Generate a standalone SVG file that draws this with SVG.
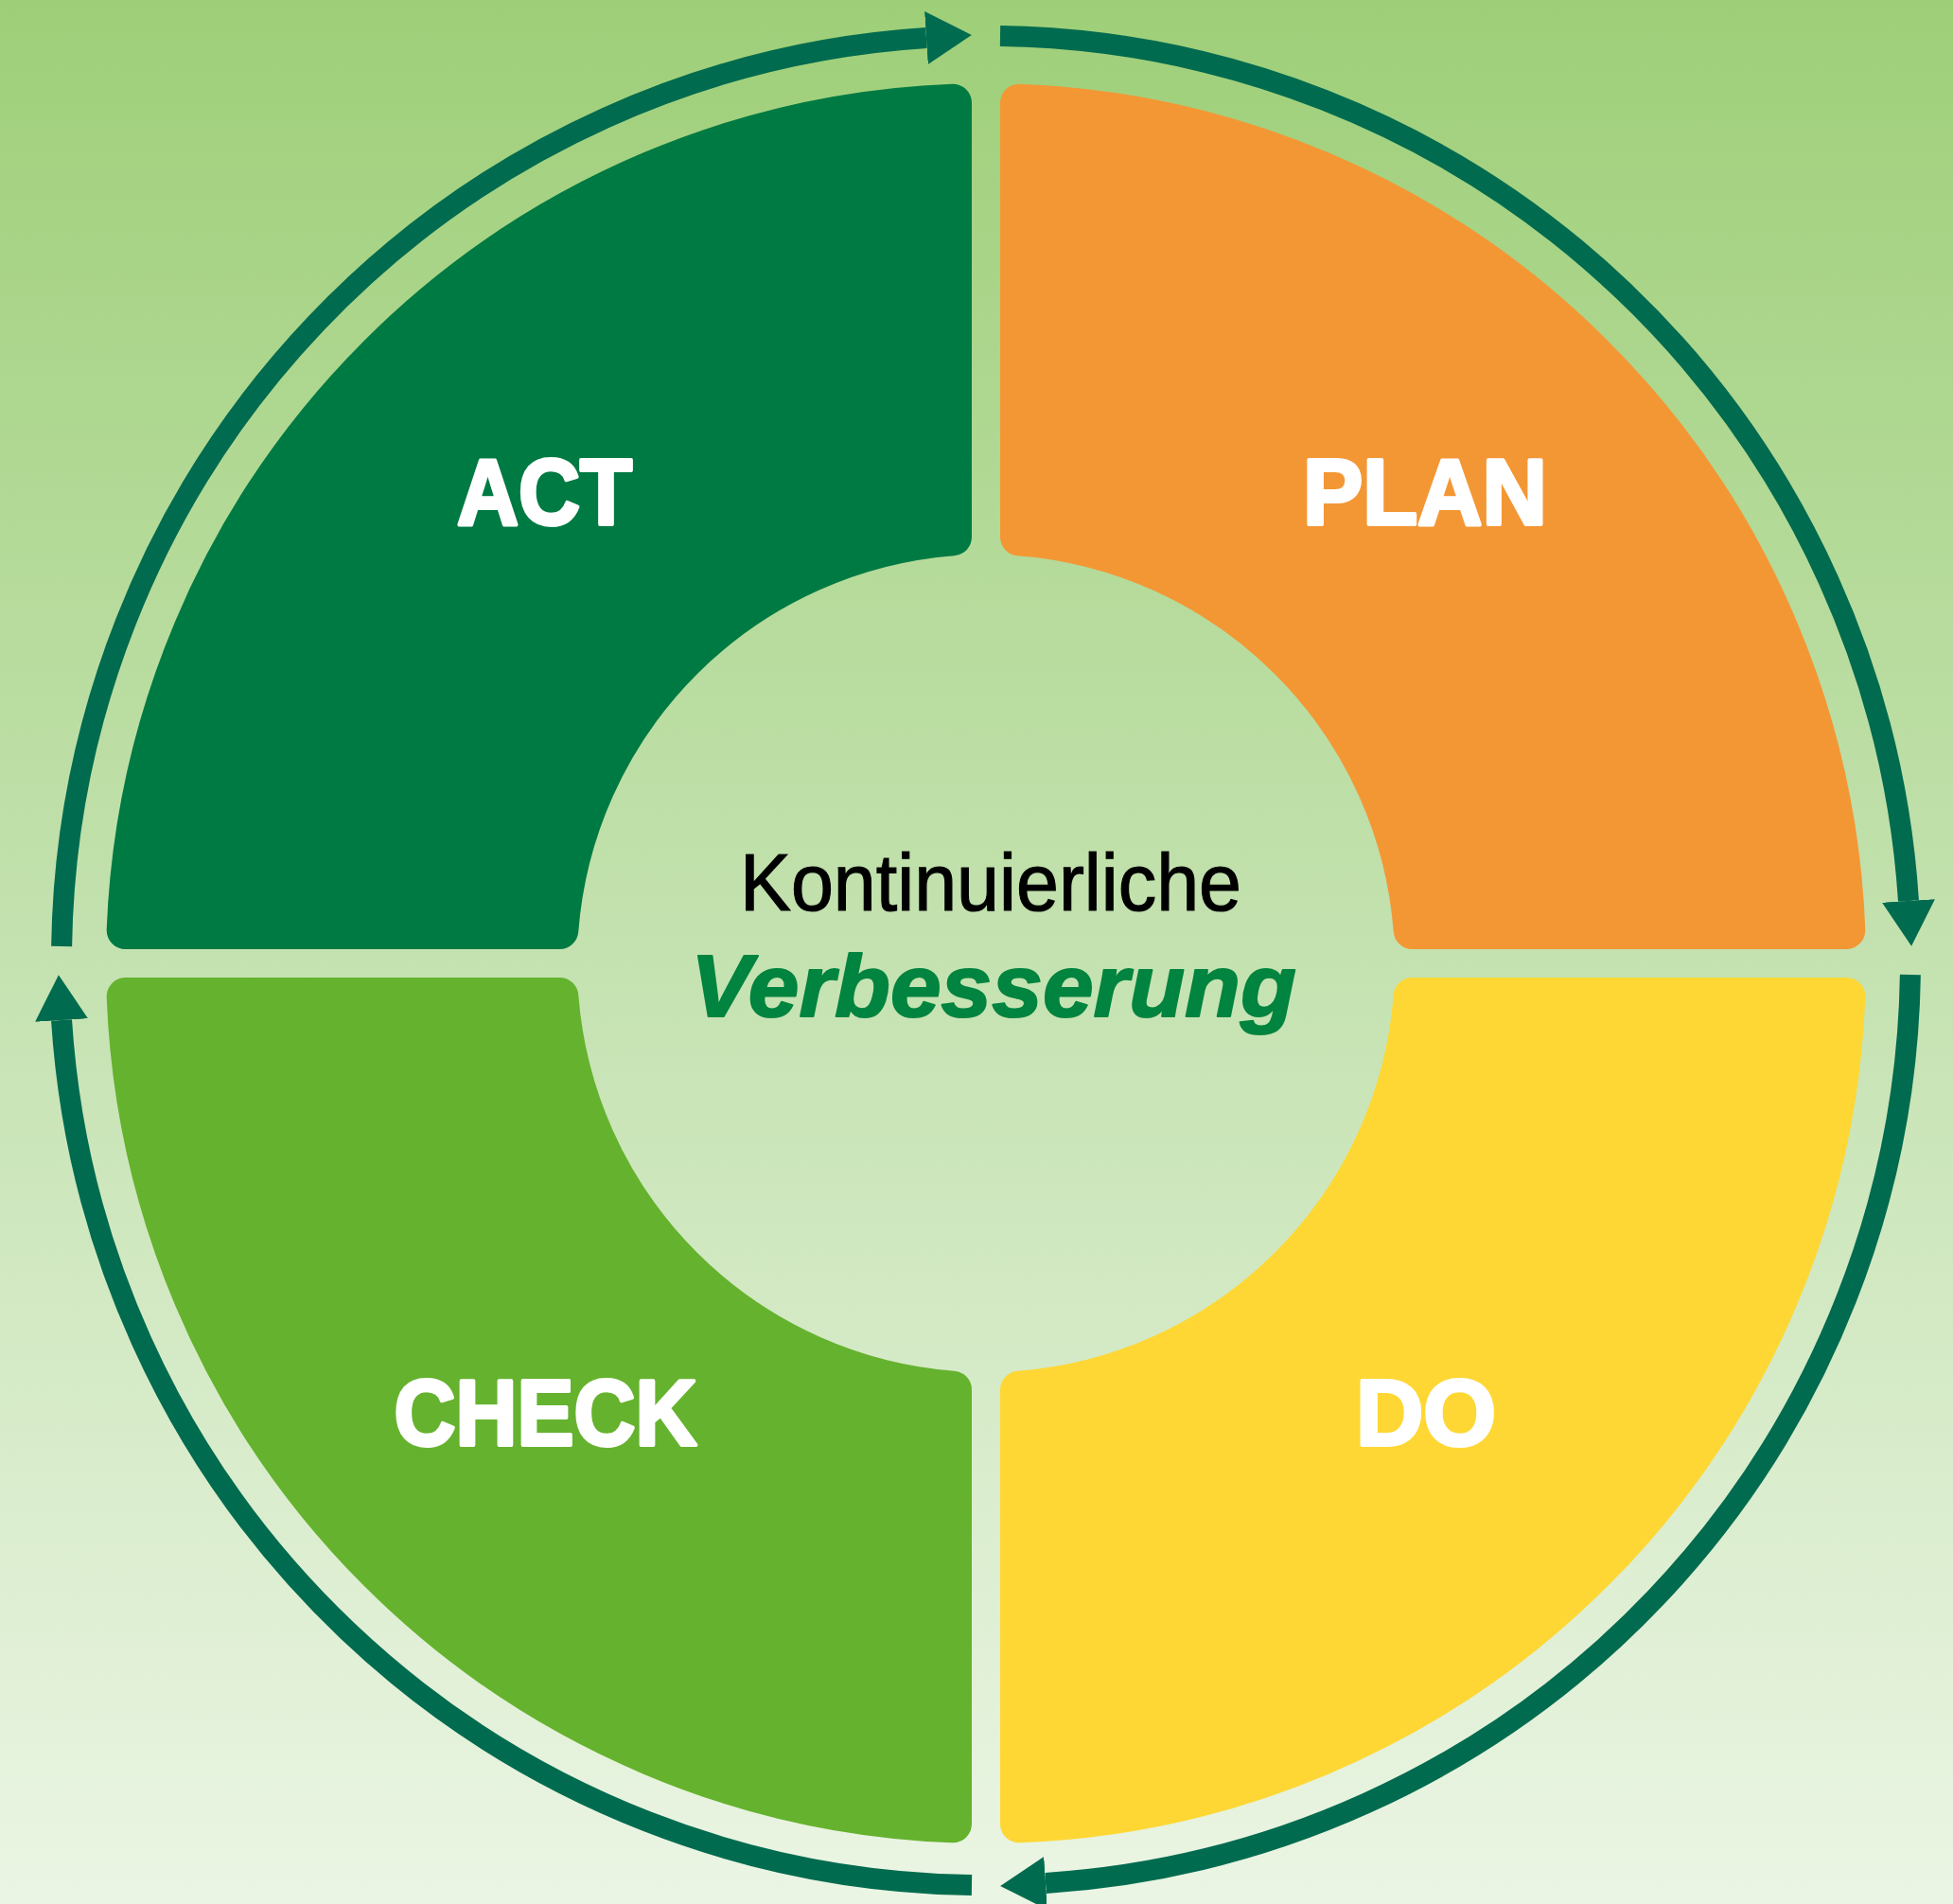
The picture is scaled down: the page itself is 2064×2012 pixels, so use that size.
<svg xmlns="http://www.w3.org/2000/svg" xmlns:xlink="http://www.w3.org/1999/xlink" width="2064" height="2012" viewBox="0 0 2064 2012">
  <defs>
    <linearGradient id="bg" x1="0" y1="0" x2="0" y2="1">
      <stop offset="0" stop-color="#9ECF78"/>
      <stop offset="0.5" stop-color="#C4E2B0"/>
      <stop offset="1" stop-color="#EBF5E4"/>
    </linearGradient>
    <path id="quad" d="M 1007 108.67 L 1007 567.36 A 452 452 0 0 0 591.36 983 L 132.67 983 A 910 910 0 0 1 1007 108.67 Z"/>
    <marker id="arrow" markerUnits="userSpaceOnUse" markerWidth="48" markerHeight="56" viewBox="0 0 48 56" refX="0" refY="28" orient="auto">
      <path d="M0 0 L48 28 L0 56 Z" fill="#006B4F"/>
    </marker>
    <style>
      .q { stroke-width: 40; stroke-linejoin: round; }
      .ring { fill: none; stroke: #006B4F; stroke-width: 22; stroke-linecap: butt; marker-end: url(#arrow); }
      .lbl { font-family: "Liberation Sans", Arial, sans-serif; font-weight: 700; font-size: 98px; fill: #FFFFFF; stroke: #FFFFFF; stroke-width: 4; stroke-linejoin: round; text-anchor: middle; }
      .t1 { font-family: "Liberation Sans", Arial, sans-serif; font-size: 86px; fill: #000000; stroke: #000000; stroke-width: 1.2; text-anchor: middle; }
      .t2 { font-family: "Liberation Sans", Arial, sans-serif; font-weight: 700; font-style: italic; font-size: 93px; fill: #00843F; stroke: #00843F; stroke-width: 2; stroke-linejoin: round; text-anchor: middle; }
    </style>
  </defs>
  <rect x="0" y="0" width="2064" height="2012" fill="url(#bg)"/>

  <g id="act">
    <use xlink:href="#quad" href="#quad" class="q" fill="#007A43" stroke="#007A43"/>
    <text class="lbl" x="575.5" y="554" textLength="185" lengthAdjust="spacingAndGlyphs">ACT</text>
  </g>
  <g id="plan">
    <use xlink:href="#quad" href="#quad" class="q" fill="#F39735" stroke="#F39735" transform="rotate(90 1042 1018)"/>
    <text class="lbl" x="1506" y="554" textLength="258" lengthAdjust="spacingAndGlyphs">PLAN</text>
  </g>
  <g id="do">
    <use xlink:href="#quad" href="#quad" class="q" fill="#FED734" stroke="#FED734" transform="rotate(180 1042 1018)"/>
    <text class="lbl" x="1507" y="1527" textLength="148" lengthAdjust="spacingAndGlyphs">DO</text>
  </g>
  <g id="check">
    <use xlink:href="#quad" href="#quad" class="q" fill="#65B22E" stroke="#65B22E" transform="rotate(270 1042 1018)"/>
    <text class="lbl" x="576.5" y="1527" textLength="320" lengthAdjust="spacingAndGlyphs">CHECK</text>
  </g>

  <g id="center">
    <text class="t1" x="1047" y="962" textLength="530" lengthAdjust="spacingAndGlyphs">Kontinuierliche</text>
    <text class="t2" x="1050" y="1074" textLength="640" lengthAdjust="spacingAndGlyphs">Verbesserung</text>
  </g>

  <g id="connectors">
    <path class="ring" d="M 65.115 999.995 A 977 977 0 0 1 978.95 40.04"/>
    <path class="ring" d="M 1057.005 38.115 A 977 977 0 0 1 2016.96 951.95"/>
    <path class="ring" d="M 2018.885 1030.005 A 977 977 0 0 1 1105.05 1989.96"/>
    <path class="ring" d="M 1026.995 1991.885 A 977 977 0 0 1 65.04 1078.05"/>
  </g>
</svg>
